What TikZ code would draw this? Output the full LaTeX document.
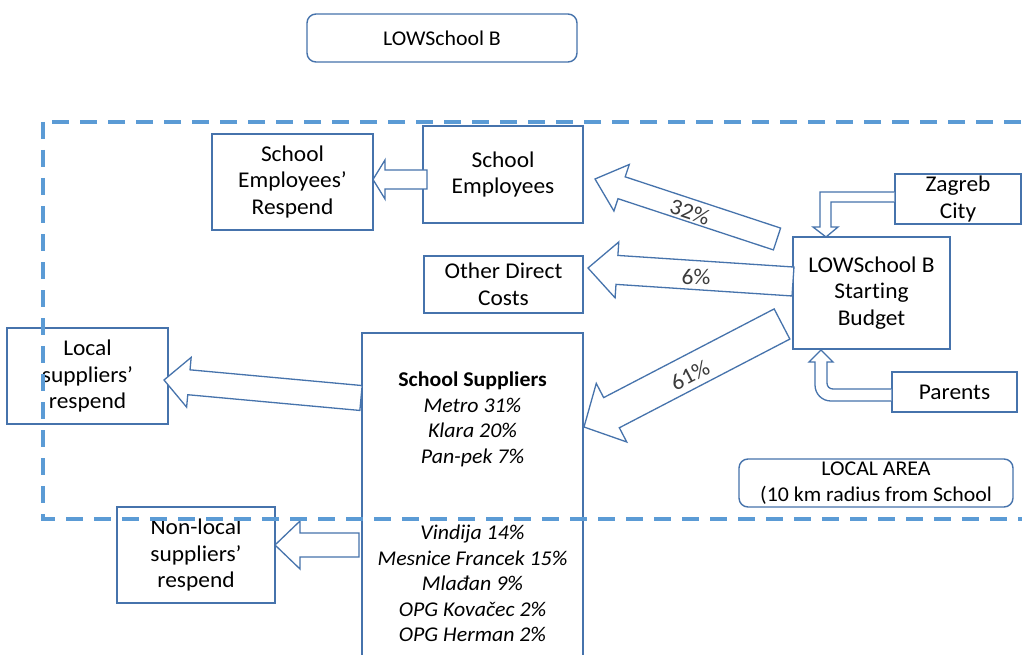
\documentclass[tikz,border=0pt]{standalone}
\usepackage{fontspec}
\setmainfont{Carlito}[FakeStretch=1.04, Ligatures=NoCommon]
\usetikzlibrary{calc}

\definecolor{boxblue}{RGB}{70,115,172}
\definecolor{areablue}{RGB}{91,155,213}
\definecolor{pcgray}{RGB}{60,60,60}

\newcommand\boxfont{\fontsize{22.5}{26.5}\selectfont}
\newcommand\smallboxfont{\fontsize{21}{26.5}\selectfont}
\newcommand\listfont{\fontsize{21}{25.5}\selectfont}

% block arrow: tail, tip, half shaft width, half head width, head length
\newcommand\blockarrow[5]{%
  \path ($(#2)!#5!(#1)$) coordinate (ba-base);
  \draw[barrow] ($(#1)!#3!90:(#2)$) -- ($(ba-base)!#3!90:(#2)$)
    -- ($(ba-base)!#4!90:(#2)$) -- (#2) -- ($(ba-base)!#4!-90:(#2)$)
    -- ($(ba-base)!#3!-90:(#2)$) -- ($(#1)!#3!-90:(#2)$) -- cycle;
}

\tikzset{
  box/.style={draw=boxblue, line width=1.4pt, fill=white, align=center,
    inner sep=0pt, font=\boxfont, text=black},
  roundbox/.style={box, rounded corners=9pt, font=\smallboxfont},
  listtext/.style={align=center, inner sep=0pt, font=\listfont, text=black},
  barrow/.style={draw=boxblue, line width=1.3pt, fill=white, line join=miter},
  pct/.style={font=\boxfont, text=pcgray, inner sep=0pt},
  arealine/.style={draw=areablue, line width=4pt, dash pattern=on 17pt off 11pt},
}

\begin{document}
\begin{tikzpicture}[x=1pt,y=-1pt]
\useasboundingbox (0,0) rectangle (1022,655);
\fill[white] (0,0) rectangle (1022,655);

% title
\node[roundbox, minimum width=270pt, minimum height=48pt] (title) at (442,38) {LOWSchool B};

% boxes
\node[box, minimum width=161pt, minimum height=96pt] (resp) at (292.5,182) {School\\Employees’\\Respend};
\node[box, minimum width=160pt, minimum height=97pt] (emp) at (503,174.5) {School\\Employees};
\node[box, minimum width=159pt, minimum height=57pt] (odc) at (503.5,284.5) {Other Direct\\Costs};
\node[box, minimum width=157pt, minimum height=112pt] (bud) at (871.5,293) {LOWSchool B\\Starting\\Budget};
\node[box, minimum width=126pt, minimum height=50pt] (zag) at (958,199) {Zagreb\\City};
\node[box, minimum width=125pt, minimum height=40pt] (par) at (954.5,392) {Parents};
\node[roundbox, minimum width=274pt, minimum height=48pt] (area) at (876,483) {LOCAL AREA\\(10 km radius from School};
\node[box, minimum width=161pt, minimum height=96pt] (lsr) at (87.5,376) {Local\\suppliers’\\respend};
\node[box, minimum width=158pt, minimum height=96pt] (nlr) at (196,555) {Non-local\\suppliers’\\respend};
\node[box, minimum width=221pt, minimum height=357pt] (sup) at (472.5,511.5) {};
\node[listtext, anchor=north] (suptext) at (472.5,372)
  {\textbf{School Suppliers}\\\textit{Metro 31\%}\\\textit{Klara 20\%}\\\textit{Pan-pek 7\%}\\[51pt]
   \textit{Vindija 14\%}\\\textit{Mesnice Francek 15\%}\\\textit{Mlađan 9\%}\\
   \textit{OPG Kovačec 2\%}\\\textit{OPG Herman 2\%}};

% arrow ends
\coordinate (te) at (427,179.5);  \coordinate (pe) at (373,179.5);
\coordinate (t32) at (777,239);   \coordinate (p32) at (595,179);
\coordinate (t6) at (793,281.5);  \coordinate (p6) at (588,268);
\coordinate (t61) at (782,324);   \coordinate (p61) at (584,427);
\coordinate (tl) at (361,398);    \coordinate (pl) at (164,380);
\coordinate (tn) at (359,545);    \coordinate (pn) at (275,545);

\blockarrow{te}{pe}{9.5pt}{19.5pt}{12pt}
\blockarrow{t32}{p32}{11.5pt}{24.5pt}{28pt}
\blockarrow{t6}{p6}{14.5pt}{28pt}{29pt}
\blockarrow{t61}{p61}{17pt}{33pt}{31pt}
\blockarrow{tl}{pl}{12.5pt}{25pt}{25pt}
\blockarrow{tn}{pn}{12pt}{24pt}{25pt}

\node[pct, rotate=-18.3] (l32) at (690,212) {32\%};
\node[pct] (l6) at (696,277) {6\%};
\node[pct, rotate=27.5] (l61) at (690,375) {61\%};

% funding arrows into the budget
\coordinate (zagtip) at (826,237);
\draw[barrow] (zag.west |- 0,192) -- (820,192) -- (820,227) -- (813,227) -- (zagtip)
  -- (838,227) -- (831,227) -- (831,202) -- (zag.west |- 0,202);
\coordinate (partip) at (821,350);
\draw[barrow] (par.west |- 0,401) -- (831,401) .. controls (822,401) and (815,394) .. (815,385)
  -- (815,362) -- (809,362) -- (partip) -- (833,362) -- (827,362) -- (827,383)
  .. controls (827,386.5) and (829.5,389) .. (833,389) -- (par.west |- 0,389);

% local area boundary
\draw[arealine] (43,122) rectangle (1045,519);
\end{tikzpicture}
\end{document}
